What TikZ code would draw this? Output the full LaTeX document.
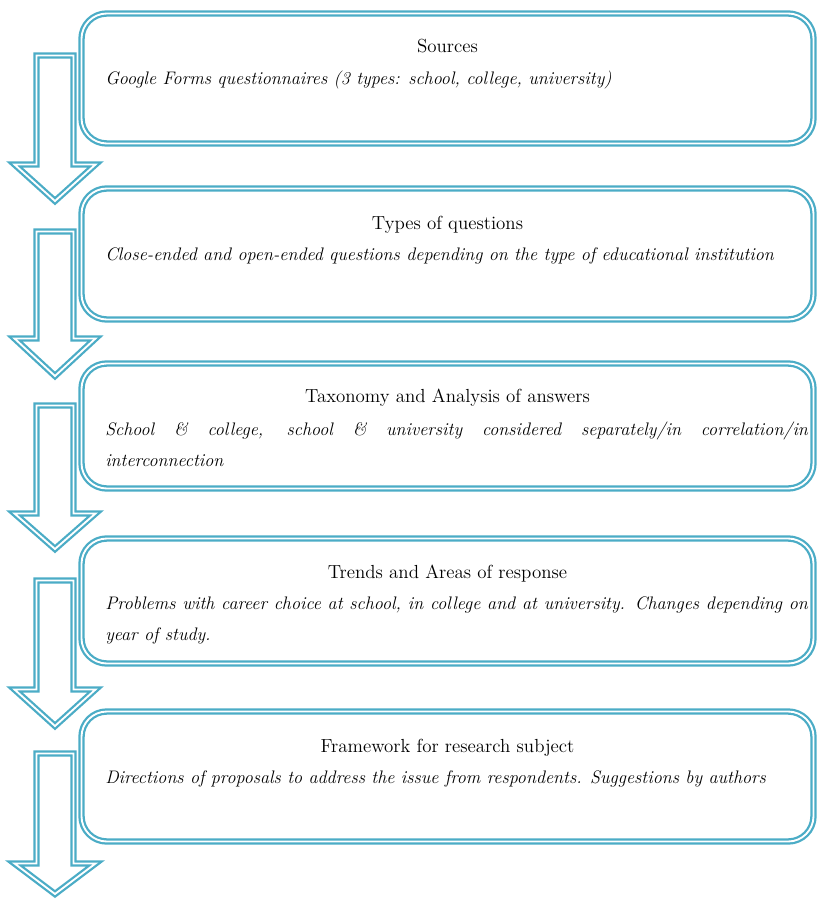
\documentclass[tikz,border=0pt]{standalone}
\usepackage{tikz}
\usepackage{xcolor}
\definecolor{boxblue}{RGB}{75,172,198}

\begin{document}
\begin{tikzpicture}
  [x=0.75pt,y=-0.75pt,
   box/.style={draw=boxblue,double=white,line width=1.7pt,double distance=1.4pt,rounded corners=19pt,minimum width=549pt,inner sep=0pt},
   downarrow/.style={draw=boxblue,double=white,line width=1.7pt,double distance=1.4pt,line join=miter},
   head/.style={font=\fontsize{14.2}{17}\selectfont,inner sep=0pt,anchor=base},
   body/.style={font=\fontsize{13.6}{23.25}\selectfont\itshape,inner sep=0pt,anchor=base west,text width=527pt,align=justify}]
  \useasboundingbox (0,0) rectangle (819,902);

  \foreach \t/\h/\p in {52/161/207, 228/335/382, 402/510/555, 577/686/732, 750/860/900}
    \draw[downarrow] (36.5,\t+3.5) -- (73.5,\t+3.5) -- (73.5,\h+3.5) -- (95.5,\h+3.5)
      -- (55,\p-6) -- (14.5,\h+3.5) -- (36.5,\h+3.5) -- cycle;

  \node[box,minimum height=97.5pt] (b1) at (447.5,78.5) {};
  \node[box,minimum height=98.25pt] (b2) at (447.5,254) {};
  \node[box,minimum height=93.75pt] (b3) at (447.5,426) {};
  \node[box,minimum height=93.75pt] (b4) at (447.5,601) {};
  \node[box,minimum height=97.5pt] (b5) at (447.5,776.5) {};

  \node[head] (t1) at (447.5,53) {Sources};
  \node[body] (d1) at (105,85) {Google Forms questionnaires (3 types: school, college, university)};
  \node[head] (t2) at (447.5,229) {Types of questions};
  \node[body] (d2) at (105,260) {Close-ended and open-ended questions depending on the type of educational institution};
  \node[head] (t3) at (447.5,402) {Taxonomy and Analysis of answers};
  \node[body] (d3) at (105,435) {School \& college, school \& university considered separately/in correlation/in\linebreak interconnection};
  \node[head] (t4) at (447.5,578) {Trends and Areas of response};
  \node[body] (d4) at (105,609) {Problems with career choice at school, in college and at university. Changes depending on\linebreak year of study.};
  \node[head] (t5) at (447.5,752) {Framework for research subject};
  \node[body] (d5) at (105,783) {Directions of proposals to address the issue from respondents. Suggestions by authors};

\end{tikzpicture}
\end{document}
